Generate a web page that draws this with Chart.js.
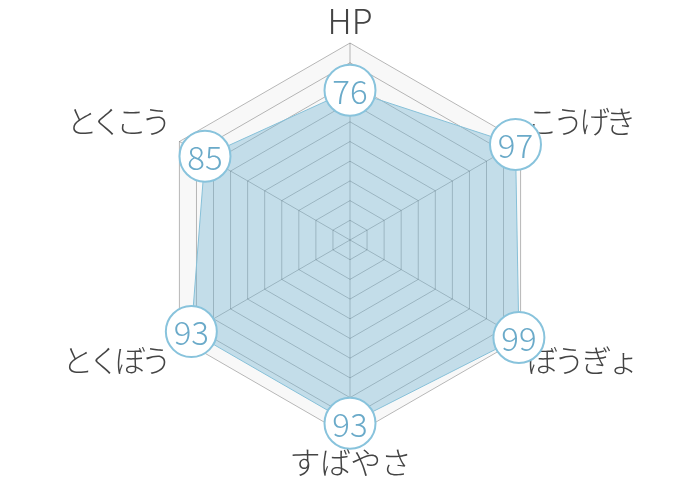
<!DOCTYPE html>
<html>
<head>
<meta charset="utf-8">
<script src="https://cdn.jsdelivr.net/npm/chart.js@4"></script>
<style>
html,body{margin:0;padding:0;background:#fff;}
#wrap{width:700px;height:480px;}
</style>
</head>
<body>
<div id="wrap"><canvas id="c" width="700" height="480"></canvas></div>
<script>
const categories = ["HP", "こうげき", "ぼうぎょ", "すばやさ", "とくぼう", "とくこう"];
const statValues = [76, 97, 99, 93, 93, 85];
const maxValues = [100, 100, 100, 100, 100, 100];
const FONT = '"Noto Sans CJK JP", "Noto Sans", sans-serif';

// per-label tightening to imitate the proportional kana of the original
const labelSpacing = [0, -4.8, -3.8, -0.6, -4.8, -6.2];

function drawFont(i) {
  return '300 ' + (i === 0 ? 34 : 31) + 'px ' + FONT;
}

const pointLabelPlugin = {
  id: 'customPointLabels',
  beforeDatasetsDraw(chart) {
    const scale = chart.scales.r;
    const ctx = chart.ctx;
    ctx.save();
    ctx.fillStyle = '#444444';
    ctx.textBaseline = 'middle';
    categories.forEach((lab, i) => {
      const box = scale.getPointLabelPosition(i);
      ctx.font = drawFont(i);
      const sp = labelSpacing[i];
      ctx.letterSpacing = sp + 'px';
      const cx = (box.left + box.right) / 2;
      let cy = (box.top + box.bottom) / 2;
      let x, align;
      if (Math.abs(cx - scale.xCenter) < 5) {
        align = 'center'; x = cx - sp / 2;
        if (cy < scale.yCenter) cy += 3;
      } else {
        if (cy < scale.yCenter) cy += 1.5;
        if (cx > scale.xCenter) { align = 'left'; x = box.left; }
        else { align = 'right'; x = box.right + sp - 1.5; }
      }
      ctx.textAlign = align;
      ctx.fillText(lab, x, cy);
    });
    ctx.restore();
  }
};

const valueLabelPlugin = {
  id: 'valueLabels',
  afterDatasetsDraw(chart) {
    const meta = chart.getDatasetMeta(0);
    const ctx = chart.ctx;
    ctx.save();
    ctx.font = '300 33px ' + FONT;
    ctx.fillStyle = '#6aaac9';
    ctx.textAlign = 'center';
    ctx.textBaseline = 'middle';
    meta.data.forEach((pt, i) => {
      ctx.fillText(String(statValues[i]), pt.x, pt.y + 1);
    });
    ctx.restore();
  }
};

new Chart(document.getElementById('c'), {
  type: 'radar',
  data: {
    labels: categories,
    datasets: [
      {
        data: statValues,
        backgroundColor: 'rgba(115,180,210,0.4)',
        borderColor: '#86c0d8',
        borderWidth: 1,
        pointRadius: 25.5,
        pointHoverRadius: 25.5,
        pointBorderWidth: 2,
        pointBackgroundColor: '#ffffff',
        pointBorderColor: '#88c3dc'
      },
      {
        data: maxValues,
        backgroundColor: 'rgba(0,0,0,0.028)',
        borderWidth: 0,
        pointRadius: 0,
        fill: true
      }
    ]
  },
  options: {
    responsive: false,
    animation: false,
    devicePixelRatio: 1,
    plugins: { legend: { display: false }, tooltip: { enabled: false } },
    scales: {
      r: {
        min: 0,
        max: 100,
        ticks: { stepSize: 10, display: false },
        grid: { color: 'rgba(0,0,0,0.28)', lineWidth: 1 },
        angleLines: { color: 'rgba(0,0,0,0.28)', lineWidth: 1 },
        pointLabels: {
          font: { family: FONT, size: 30, weight: '300' },
          color: 'rgba(0,0,0,0)',
          padding: 7
        }
      }
    }
  },
  plugins: [pointLabelPlugin, valueLabelPlugin]
});
</script>
</body>
</html>
